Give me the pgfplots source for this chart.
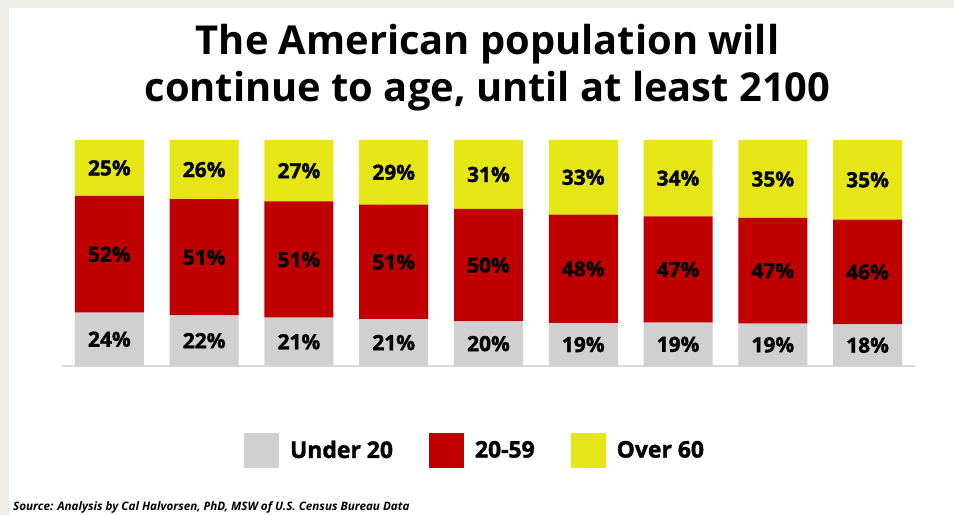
\documentclass[border=0pt]{standalone}
\usepackage{pgfplots}
\pgfplotsset{compat=1.18}
\usepackage{pgfplotstable}
\usepackage{fontspec}
\setmainfont{Open Sans}
\newfontfamily\heavyfont{Open Sans}[BoldFeatures={FakeBold=1.6}]
\definecolor{cgray}{HTML}{D0D0D0}
\definecolor{cred}{HTML}{C00000}
\definecolor{cyel}{HTML}{E6E617}
\definecolor{cframe}{HTML}{EFECE8}
\definecolor{axisline}{HTML}{D9D9D9}

\pgfplotstableread{
x gray red yellow lg lr ly
0 23.6 51.7 24.7 24 52 25
1 22.4 51.4 26.2 22 51 26
2 21.4 51.4 27.2 21 51 27
3 20.7 50.7 28.6 21 51 29
4 19.8 49.7 30.5 20 50 31
5 19.0 48.0 33.0 19 48 33
6 19.2 47.0 33.8 19 47 34
7 18.8 46.7 34.5 19 47 35
8 18.4 46.4 35.2 18 46 35
}\datatable

\begin{document}
\begin{tikzpicture}
\fill[cframe] (0bp,0bp) rectangle (954bp,515bp);
\fill[white] (9bp,0bp) rectangle (954bp,507bp);
\useasboundingbox (0bp,0bp) rectangle (954bp,515bp);

\begin{axis}[
  at={(62bp,149bp)}, anchor=south west,
  scale only axis, width=853bp, height=226bp,
  xmin=-0.5, xmax=8.5, ymin=0, ymax=100,
  ybar stacked, bar width=69bp,
  axis x line*=bottom, axis y line=none,
  x axis line style={draw=axisline, line width=1.2bp, -},
  xtick=\empty, ytick=\empty,
  clip=false,
  legend columns=3,
  legend style={draw=none, fill=none, at={(0.4842,-0.3717)}, anchor=center,
    font=\fontsize{23}{27}\selectfont\heavyfont\bfseries,
    /tikz/every odd column/.append style={column sep=9bp},
    /tikz/every even column/.append style={column sep=34bp}},
  legend image code/.code={\fill[#1] (0bp,-17.5bp) rectangle (35bp,17.5bp);},
]
\addplot[fill=cgray, draw=none] table[x=x,y=gray]{\datatable};
\addplot[fill=cred, draw=none] table[x=x,y=red]{\datatable};
\addplot[fill=cyel, draw=none] table[x=x,y=yellow]{\datatable};
\legend{Under 20, 20-59, Over 60}
\end{axis}

\begin{axis}[
  at={(62bp,149bp)}, anchor=south west,
  scale only axis, width=853bp, height=226bp,
  xmin=-0.5, xmax=8.5, ymin=0, ymax=100,
  hide axis, clip=false,
  nodes near coords={\pgfplotspointmeta\%}, point meta=explicit symbolic,
  every node near coord/.append style={anchor=center, font=\fontsize{21}{25}\selectfont\heavyfont\bfseries, text=black, inner sep=0pt},
]
\addplot[draw=none, mark=none] table[x=x, y expr=\thisrow{gray}/2, meta=lg]{\datatable};
\addplot[draw=none, mark=none] table[x=x, y expr=\thisrow{gray}+\thisrow{red}/2, meta=lr]{\datatable};
\addplot[draw=none, mark=none] table[x=x, y expr=\thisrow{gray}+\thisrow{red}+\thisrow{yellow}/2, meta=ly]{\datatable};
\end{axis}

\node[anchor=base, font=\fontsize{40}{48}\selectfont\bfseries, inner sep=0pt] at (487.5bp,460bp) {The American population will};
\node[anchor=base, font=\fontsize{40}{48}\selectfont\bfseries, inner sep=0pt] at (487.5bp,413bp) {continue to age, until at least 2100};
\node[anchor=base west, font=\fontsize{11.7}{13}\selectfont\bfseries\itshape, inner sep=0pt] at (13bp,5bp) {Source: Analysis by Cal Halvorsen, PhD, MSW of U.S. Census Bureau Data};
\end{tikzpicture}
\end{document}
